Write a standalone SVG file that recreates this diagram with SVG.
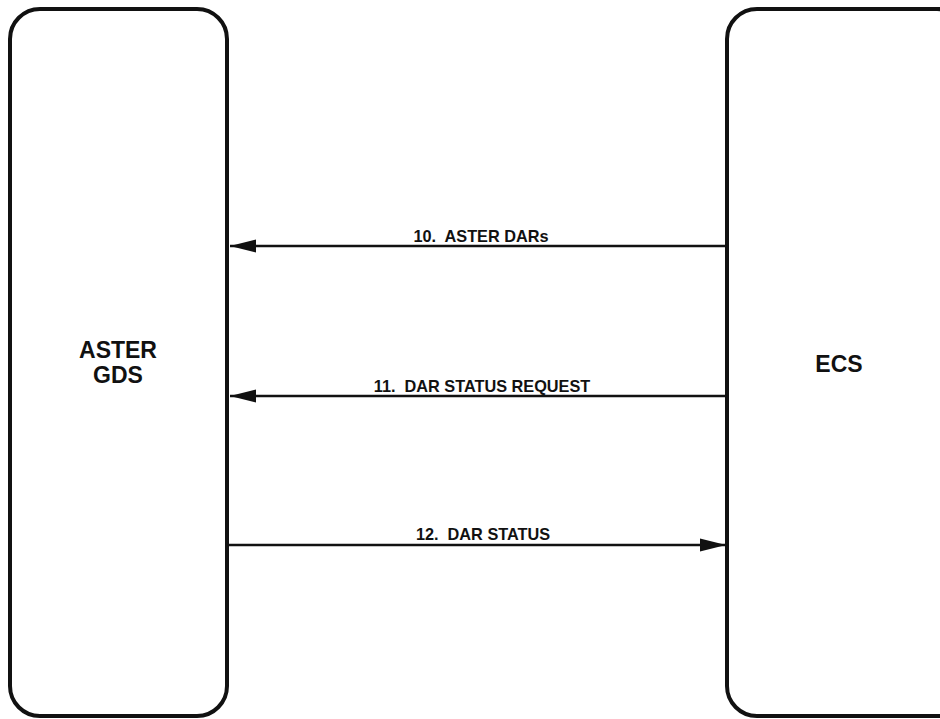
<svg xmlns="http://www.w3.org/2000/svg" width="940" height="719" viewBox="0 0 940 719">
<style>
.box{fill:#fff;stroke:#111;stroke-width:4}
.big{font-family:"Liberation Sans",Arial,sans-serif;font-weight:bold;font-size:23px;fill:#111;text-anchor:middle}
.lbl{font-family:"Liberation Sans",Arial,sans-serif;font-weight:bold;font-size:16.3px;fill:#111;text-anchor:middle}
.ln{stroke:#111;stroke-width:2.5;fill:none}
</style>
<defs>
<marker id="ah" markerUnits="userSpaceOnUse" markerWidth="28" markerHeight="16" refX="26" refY="8" orient="auto">
<path d="M0,1.5 L26,8 L0,14.5 Z" fill="#111"/>
</marker>
</defs>
<rect width="940" height="719" fill="#fff"/>
<g id="aster-gds">
<rect class="box" x="10" y="9" width="217" height="707" rx="30" ry="30"/>
<text class="big" x="118" y="358">ASTER</text>
<text class="big" x="118" y="383">GDS</text>
</g>
<g id="ecs">
<rect class="box" x="727" y="9" width="240" height="707" rx="30" ry="30"/>
<text class="big" x="839" y="372">ECS</text>
</g>
<g id="connectors">
<line class="ln" x1="727" y1="246" x2="230" y2="246" marker-end="url(#ah)"/>
<text class="lbl" x="481" y="242" xml:space="preserve">10.  ASTER DARs</text>
<line class="ln" x1="727" y1="396" x2="230" y2="396" marker-end="url(#ah)"/>
<text class="lbl" x="482" y="392" xml:space="preserve">11.  DAR STATUS REQUEST</text>
<line class="ln" x1="229" y1="545" x2="726" y2="545" marker-end="url(#ah)"/>
<text class="lbl" x="483" y="540" xml:space="preserve">12.  DAR STATUS</text>
</g>
</svg>
